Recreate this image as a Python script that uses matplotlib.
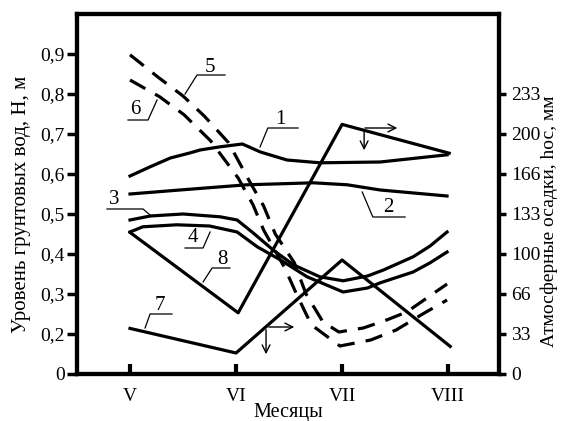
import numpy as np
import matplotlib.pyplot as plt

plt.rcParams['font.family'] = ['Liberation Serif', 'DejaVu Serif']

# month positions and labels
months = ['V', 'VI', 'VII', 'VIII']
month_pos = [0, 1, 2, 3]

# groundwater level, H (m) - curves 1..6
x1 = [0, 0.19, 0.38, 0.57, 0.66, 0.85, 1.06, 1.23, 1.48, 1.79, 2.36, 2.99]
h1 = [0.595, 0.618, 0.64, 0.653, 0.66, 0.668, 0.675, 0.655, 0.635, 0.628, 0.63, 0.648]

x2 = [0, 0.47, 1.10, 1.73, 2.05, 2.36, 2.99]
h2 = [0.55, 0.56, 0.573, 0.578, 0.573, 0.56, 0.545]

x3 = [0, 0.19, 0.50, 0.85, 1.01, 1.16, 1.35, 1.54, 1.79, 2.01, 2.24, 2.39, 2.67, 2.83, 2.99]
h3 = [0.485, 0.495, 0.50, 0.493, 0.485, 0.453, 0.41, 0.373, 0.343, 0.333, 0.345, 0.36, 0.393, 0.42, 0.455]

x4 = [0, 0.12, 0.44, 0.75, 1.01, 1.20, 1.42, 1.67, 2.01, 2.24, 2.36, 2.67, 2.83, 2.99]
h4 = [0.455, 0.468, 0.473, 0.47, 0.455, 0.418, 0.385, 0.343, 0.305, 0.315, 0.328, 0.355, 0.378, 0.405]

x5 = [0, 0.26, 0.50, 0.70, 0.93, 1.12, 1.26, 1.37, 1.55, 1.66, 1.82, 1.97, 2.20, 2.42, 2.61, 2.80, 2.99]
h5 = [0.898, 0.843, 0.795, 0.745, 0.678, 0.585, 0.52, 0.45, 0.378, 0.30, 0.23, 0.205, 0.215, 0.235, 0.255, 0.29, 0.325]

x6 = [0, 0.28, 0.51, 0.76, 1.02, 1.16, 1.26, 1.46, 1.57, 1.71, 1.98, 2.27, 2.51, 2.76, 2.99]
h6 = [0.835, 0.793, 0.748, 0.683, 0.59, 0.523, 0.46, 0.365, 0.30, 0.223, 0.17, 0.185, 0.21, 0.25, 0.285]

# precipitation, hос (mm) - curves 7 and 8
x7 = [0, 1, 2, 3.02]
p7 = [38, 17.5, 95, 23]
x8 = [0, 1.02, 2, 3.01]
p8 = [118, 51, 208, 184]

h_ticks = [0.1, 0.2, 0.3, 0.4, 0.5, 0.6, 0.7, 0.8, 0.9]
h_labels = ['0', '0,2', '0,3', '0,4', '0,5', '0,6', '0,7', '0,8', '0,9']
p_ticks = [0, 100/3, 200/3, 100, 400/3, 500/3, 200, 700/3]
p_labels = ['0', '33', '66', '100', '133', '166', '200', '233']

fig = plt.figure(figsize=(5.61, 4.21), dpi=100)
ax = fig.add_axes([77/561, 47/421, 422/561, 360/421])
ax2 = ax.twinx()

lw = 2.3
ax.plot(x1, h1, 'k-', lw=lw)
ax.plot(x2, h2, 'k-', lw=lw)
ax.plot(x3, h3, 'k-', lw=lw)
ax.plot(x4, h4, 'k-', lw=lw)
ax.plot(x5, h5, 'k', lw=lw, ls=(0, (5.5, 3.5)))
ax.plot(x6, h6, 'k', lw=lw, ls=(0, (5.5, 3.5)))
ax2.plot(x7, p7, 'k-', lw=lw)
ax2.plot(x8, p8, 'k-', lw=lw)

ax.set_xlim(-0.5, 3.48)
ax.set_ylim(0.1, 1.0)
ax2.set_ylim(0, 300)

ax.set_xticks(month_pos)
ax.set_xticklabels(months)
ax.set_yticks(h_ticks)
ax.set_yticklabels(h_labels)
ax2.set_yticks(p_ticks)
ax2.set_yticklabels(p_labels)

ax.tick_params(axis='x', direction='in', length=7, width=3, pad=10, labelsize=14)
ax.tick_params(axis='y', direction='out', length=7, width=2.5, pad=2, labelsize=14)
ax2.tick_params(axis='y', direction='out', length=5, width=2.5, pad=4, labelsize=14)
for a in (ax, ax2):
    for s in a.spines.values():
        s.set_linewidth(3)

ax.set_xlabel('Месяцы', fontsize=14.5, labelpad=-1)
fig.text(22/561, (421-204)/421, 'Уровень грунтовых вод, Н, м', rotation=90,
         ha='center', va='center', fontsize=15)
fig.text(549/561, (421-221)/421, 'Атмосферные осадки, hос, мм', rotation=90,
         ha='center', va='center', fontsize=14)

# curve numbers with leader lines
labels = [
    ('1', (1.415, 0.735), [(1.226, 0.6675), (1.30, 0.715), (1.585, 0.715)]),
    ('2', (2.434, 0.5175), [(2.19, 0.555), (2.29, 0.4925), (2.594, 0.4925)]),
    ('3', (-0.151, 0.535), [(0.189, 0.4975), (0.123, 0.5125), (-0.217, 0.5125)]),
    ('4', (0.594, 0.44), [(0.755, 0.455), (0.689, 0.415), (0.519, 0.415)]),
    ('5', (0.755, 0.8675), [(0.519, 0.80), (0.632, 0.8475), (0.896, 0.8475)]),
    ('6', (0.047, 0.76), [(0.255, 0.785), (0.17, 0.735), (-0.019, 0.735)]),
    ('7', (0.283, 0.2725), [(0.142, 0.215), (0.189, 0.25), (0.396, 0.25)]),
    ('8', (0.868, 0.385), [(0.689, 0.33), (0.774, 0.365), (0.943, 0.365)]),
]
for txt, pos, pts in labels:
    ax.text(pos[0], pos[1], txt, fontsize=15, ha='center', va='center')
    ax.plot([p[0] for p in pts], [p[1] for p in pts], 'k-', lw=0.9)

# arrows pointing to the precipitation axis
arrow_kw = dict(arrowstyle='->', lw=1.0, color='k', mutation_scale=14)
ax.annotate('', xy=(2.547, 0.715), xytext=(2.19, 0.715), arrowprops=arrow_kw)
ax.annotate('', xy=(2.208, 0.6525), xytext=(2.208, 0.715), arrowprops=arrow_kw)
ax.annotate('', xy=(1.575, 0.2175), xytext=(1.283, 0.2175), arrowprops=arrow_kw)
ax.annotate('', xy=(1.283, 0.1425), xytext=(1.283, 0.2175), arrowprops=arrow_kw)

fig.savefig('out.png', dpi=100)
